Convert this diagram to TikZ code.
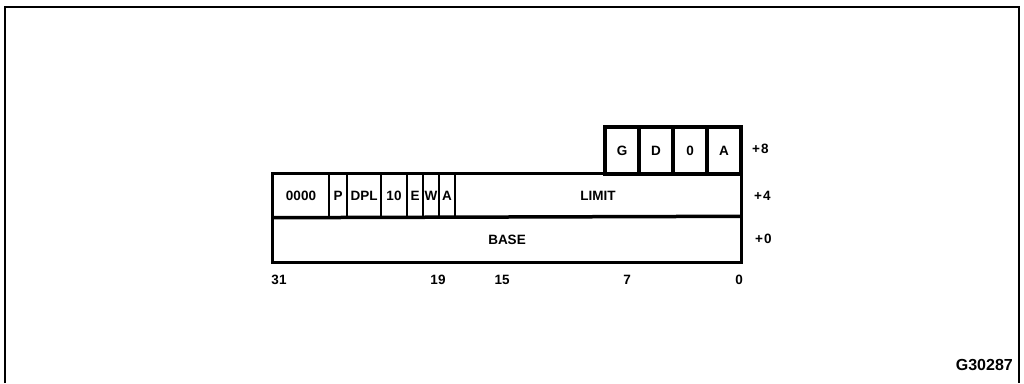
\documentclass[tikz,border=0pt]{standalone}
\usepackage{fontspec}
\setmainfont{Liberation Sans}
\begin{document}
\begin{tikzpicture}[
        x=1pt, y=-1pt,
        field/.style={
            draw,
            line width=1.4pt,
            minimum height=43pt,
            inner sep=0pt,
            font=\bfseries\fontsize{13.5}{15}\selectfont,
        },
        byte/.style={
            draw,
            line width=3.5pt,
            minimum width=34pt,
            minimum height=47pt,
            inner sep=0pt,
            font=\bfseries\fontsize{13.5}{15}\selectfont,
        },
        lbl/.style={
            font=\bfseries\fontsize{13.5}{15}\selectfont,
            inner sep=0pt,
        },
    ]

    \useasboundingbox (0, 0) rectangle (1024, 383);
    \draw[line width=1.6pt] (5, 383) -- (5, 7) -- (1019, 7) -- (1019, 383);

    % +8
    \node[byte] (g)  at (622, 150.5) {G};
    \node[byte] (d)  at (656, 150.5) {D};
    \node[byte] (o)  at (690, 150.5) {0};
    \node[byte] (av) at (724, 150.5) {A};

    % +4
    \node[field, minimum width=56pt]  (zero)  at (301, 195.5) {0000};
    \node[field, minimum width=18pt]  (p)     at (338, 195.5) {P};
    \node[field, minimum width=34pt]  (dpl)   at (364, 195.5) {DPL};
    \node[field, minimum width=26pt]  (ten)   at (394, 195.5) {10};
    \node[field, minimum width=16pt]  (e)     at (415, 195.5) {E};
    \node[field, minimum width=16pt]  (w)     at (431, 195.5) {W};
    \node[field, minimum width=16pt]  (a)     at (447, 195.5) {A};
    \node[field, minimum width=286pt] (limit) at (598, 195.5) {LIMIT};

    % +0
    \node[field, minimum width=468pt, minimum height=45pt] (base) at (507, 239.5) {BASE};

    \draw[line width=3.5pt] (zero.north west) rectangle (base.south east);
    \draw[line width=3.5pt] (zero.south west) -- (base.north east);

    \node[lbl, anchor=west] (off8) at (752, 149) {+\kern1pt8};
    \node[lbl, anchor=west] (off4) at (754, 196) {+\kern1pt4};
    \node[lbl, anchor=west] (off0) at (755, 239) {+\kern1pt0};

    \node[lbl] (b31) at (279, 280) {31};
    \node[lbl] (b19) at (438, 280) {19};
    \node[lbl] (b15) at (502, 280) {15};
    \node[lbl] (b7)  at (627, 280) {7};
    \node[lbl] (b0)  at (739, 280) {0};

    \node[lbl, anchor=east, font=\bfseries\fontsize{16}{18}\selectfont] (fig) at (1013, 365) {G30287};

\end{tikzpicture}
\end{document}
